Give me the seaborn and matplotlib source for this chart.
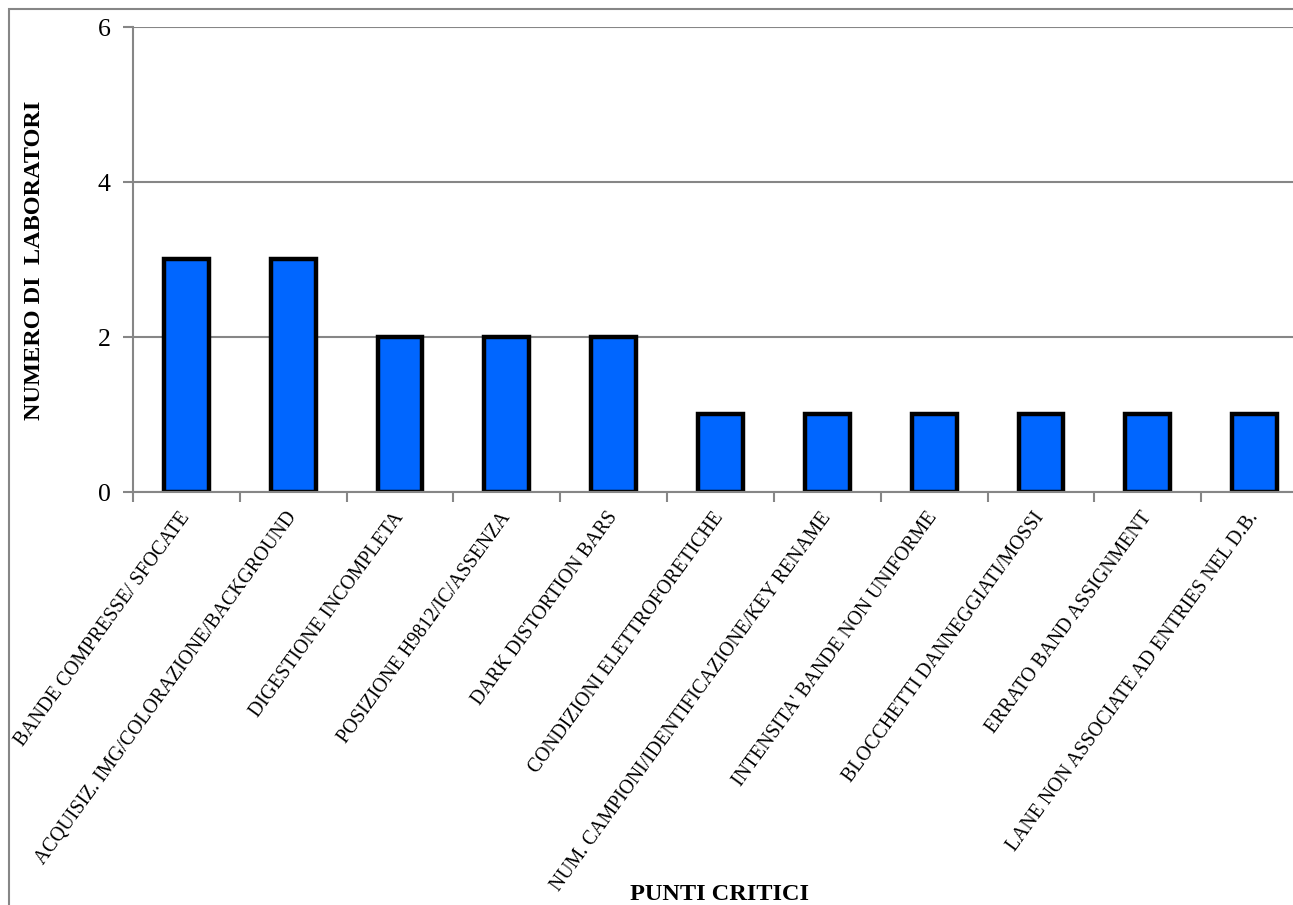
import matplotlib
matplotlib.use("Agg")
import matplotlib.pyplot as plt
import seaborn as sns
import pandas as pd
from matplotlib.patches import Rectangle
from matplotlib.ticker import FixedLocator

categories = [
    "BANDE COMPRESSE/ SFOCATE",
    "ACQUISIZ. IMG/COLORAZIONE/BACKGROUND",
    "DIGESTIONE INCOMPLETA",
    "POSIZIONE H9812/IC/ASSENZA",
    "DARK DISTORTION BARS",
    "CONDIZIONI ELETTROFORETICHE",
    "NUM. CAMPIONI/IDENTIFICAZIONE/KEY RENAME",
    "INTENSITA' BANDE NON UNIFORME",
    "BLOCCHETTI DANNEGGIATI/MOSSI",
    "ERRATO BAND ASSIGNMENT",
    "LANE NON ASSOCIATE AD ENTRIES NEL D.B.",
]
values = [3, 3, 2, 2, 2, 1, 1, 1, 1, 1, 1]
y_ticks = [0, 2, 4, 6]

sns.set_style("white")
plt.rcParams['font.family'] = ['Liberation Serif', 'DejaVu Serif']
plt.rcParams['text.color'] = 'black'
plt.rcParams['xtick.color'] = 'black'
plt.rcParams['ytick.color'] = 'black'

df = pd.DataFrame({"cat": categories, "val": values})

fig = plt.figure(figsize=(12.93, 9.05), dpi=100)
W, H = 1293, 905
ax = fig.add_axes([133 / W, 1 - 492 / H, 1175 / W, 465 / H])

sns.barplot(data=df, x="cat", y="val", ax=ax, color="#0066FF",
            width=0.42, edgecolor="black", linewidth=3.2, saturation=1)

ax.set_xlim(-0.5, len(categories) - 0.5)
ax.set_ylim(0, 6)
ax.set_yticks(y_ticks)
ax.set_yticklabels([str(t) for t in y_ticks], fontsize=18.5, color="black")
ax.yaxis.grid(True, color="#868686", linewidth=1.5)
ax.set_axisbelow(True)

gray = "#868686"
for s in ["top", "right"]:
    ax.spines[s].set_visible(False)
for s in ["left", "bottom"]:
    ax.spines[s].set_color(gray)
    ax.spines[s].set_linewidth(1.5)

ax.tick_params(axis="y", which="major", length=7, width=1.5, color=gray,
               labelcolor="black", direction="out", pad=9, left=True)
ax.xaxis.set_minor_locator(FixedLocator([i - 0.5 for i in range(len(categories) + 1)]))
ax.tick_params(axis="x", which="minor", length=7, width=1.5, color=gray,
               direction="out", bottom=True)
ax.tick_params(axis="x", which="major", length=0, pad=16, labelcolor="black")
ax.set_xticks(range(len(categories)))
ax.set_xticklabels(categories, rotation=54, ha="right", va="center",
                   rotation_mode="anchor", fontsize=14.2, color="black")

ax.set_xlabel("")
ax.set_ylabel("")

fig.text(35 / W, 1 - 260 / H, "NUMERO DI  LABORATORI", rotation=90,
         ha="center", va="center", fontsize=17.5, fontweight="bold", color="black")
fig.text(720 / W, 1 - 894 / H, "PUNTI CRITICI", ha="center", va="center",
         fontsize=17.5, fontweight="bold", color="black")

border = Rectangle((8.5 / W, -0.1), 1.2, 1 - 9.5 / H + 0.1, transform=fig.transFigure,
                   fill=False, edgecolor=gray, linewidth=1.5)
fig.add_artist(border)

fig.savefig("out.png", dpi=100)
